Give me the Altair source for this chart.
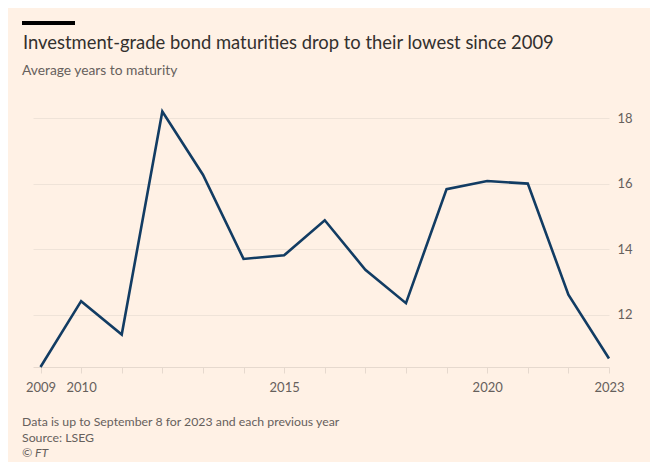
import altair as alt
import pandas as pd

years = list(range(2009, 2024))
values = [10.4, 12.41, 11.39, 18.2, 16.27, 13.7, 13.81, 14.88, 13.37, 12.35,
          15.83, 16.08, 16.0, 12.61, 10.66]
y_ticks = [12, 14, 16, 18]
x_labels = [2009, 2010, 2015, 2020, 2023]

title_text = "Investment-grade bond maturities drop to their lowest since 2009"
subtitle_text = "Average years to maturity"
footer_lines = ["Data is up to September 8 for 2023 and each previous year",
                "Source: LSEG"]
credit_text = "\u00a9 FT"

df = pd.DataFrame({"year": years, "value": values})
one = pd.DataFrame({"k": [0]})

FONT = "Lato"
BG = "#fff1e5"
label_expr = "indexof([" + ",".join(str(v) for v in x_labels) + "], datum.value) >= 0 ? datum.label : ''"

x_enc = alt.X("year:Q",
              scale=alt.Scale(domain=[2008.815, 2023], nice=False, zero=False),
              axis=alt.Axis(values=years, title=None, grid=False,
                            labelExpr=label_expr,
                            format="d", domain=True, domainColor="#e6d9ce",
                            tickColor="#e6d9ce", tickSize=6, labelColor="#66605c",
                            labelFontSize=13, labelFont=FONT, labelFontWeight=400,
                            labelPadding=8, labelFlush=False))
y_enc = alt.Y("value:Q",
              scale=alt.Scale(domain=[10.4, 18.4], nice=False, zero=False),
              axis=alt.Axis(values=y_ticks, orient="right", title=None, grid=True,
                            gridColor="#efe3d8", domain=False, ticks=False,
                            labelColor="#66605c", labelFontSize=13, labelFont=FONT,
                            labelFontWeight=400, labelPadding=8))

line = alt.Chart(df).mark_line(color="#123c63", strokeWidth=2.6, clip=False).encode(
    x=x_enc, y=y_enc)

bar = alt.Chart(one).mark_rule(color="#000000", strokeWidth=4).encode(
    x=alt.value(-11), x2=alt.value(42), y=alt.value(-82))

def txt(s, x, y, size, color, style="normal", baseline="alphabetic"):
    return alt.Chart(one).mark_text(align="left", baseline=baseline, font=FONT,
                                    fontSize=size, fontWeight=400, fontStyle=style,
                                    color=color).encode(
        x=alt.value(x), y=alt.value(y), text=alt.datum(s))

title = txt(title_text, -10, -55.7, 18.4, "#33302e")
subtitle = txt(subtitle_text, -11, -30, 13.8, "#66605c")
foot1 = txt(footer_lines[0], -11, 320.7, 12.3, "#66605c")
foot2 = txt(footer_lines[1], -11, 336.7, 12.3, "#66605c")
credit = txt(credit_text, -11, 351.7, 12.3, "#66605c", style="italic")

chart = alt.layer(line, bar, title, subtitle, foot1, foot2, credit).properties(
    width=576, height=262,
    autosize=alt.AutoSizeParams(type="none"),
    padding={"left": 25, "top": 97, "right": 41, "bottom": 95},
    background=BG,
).configure_view(stroke=None)

chart.save("out.html", embed_options={"renderer": "svg", "actions": False})
